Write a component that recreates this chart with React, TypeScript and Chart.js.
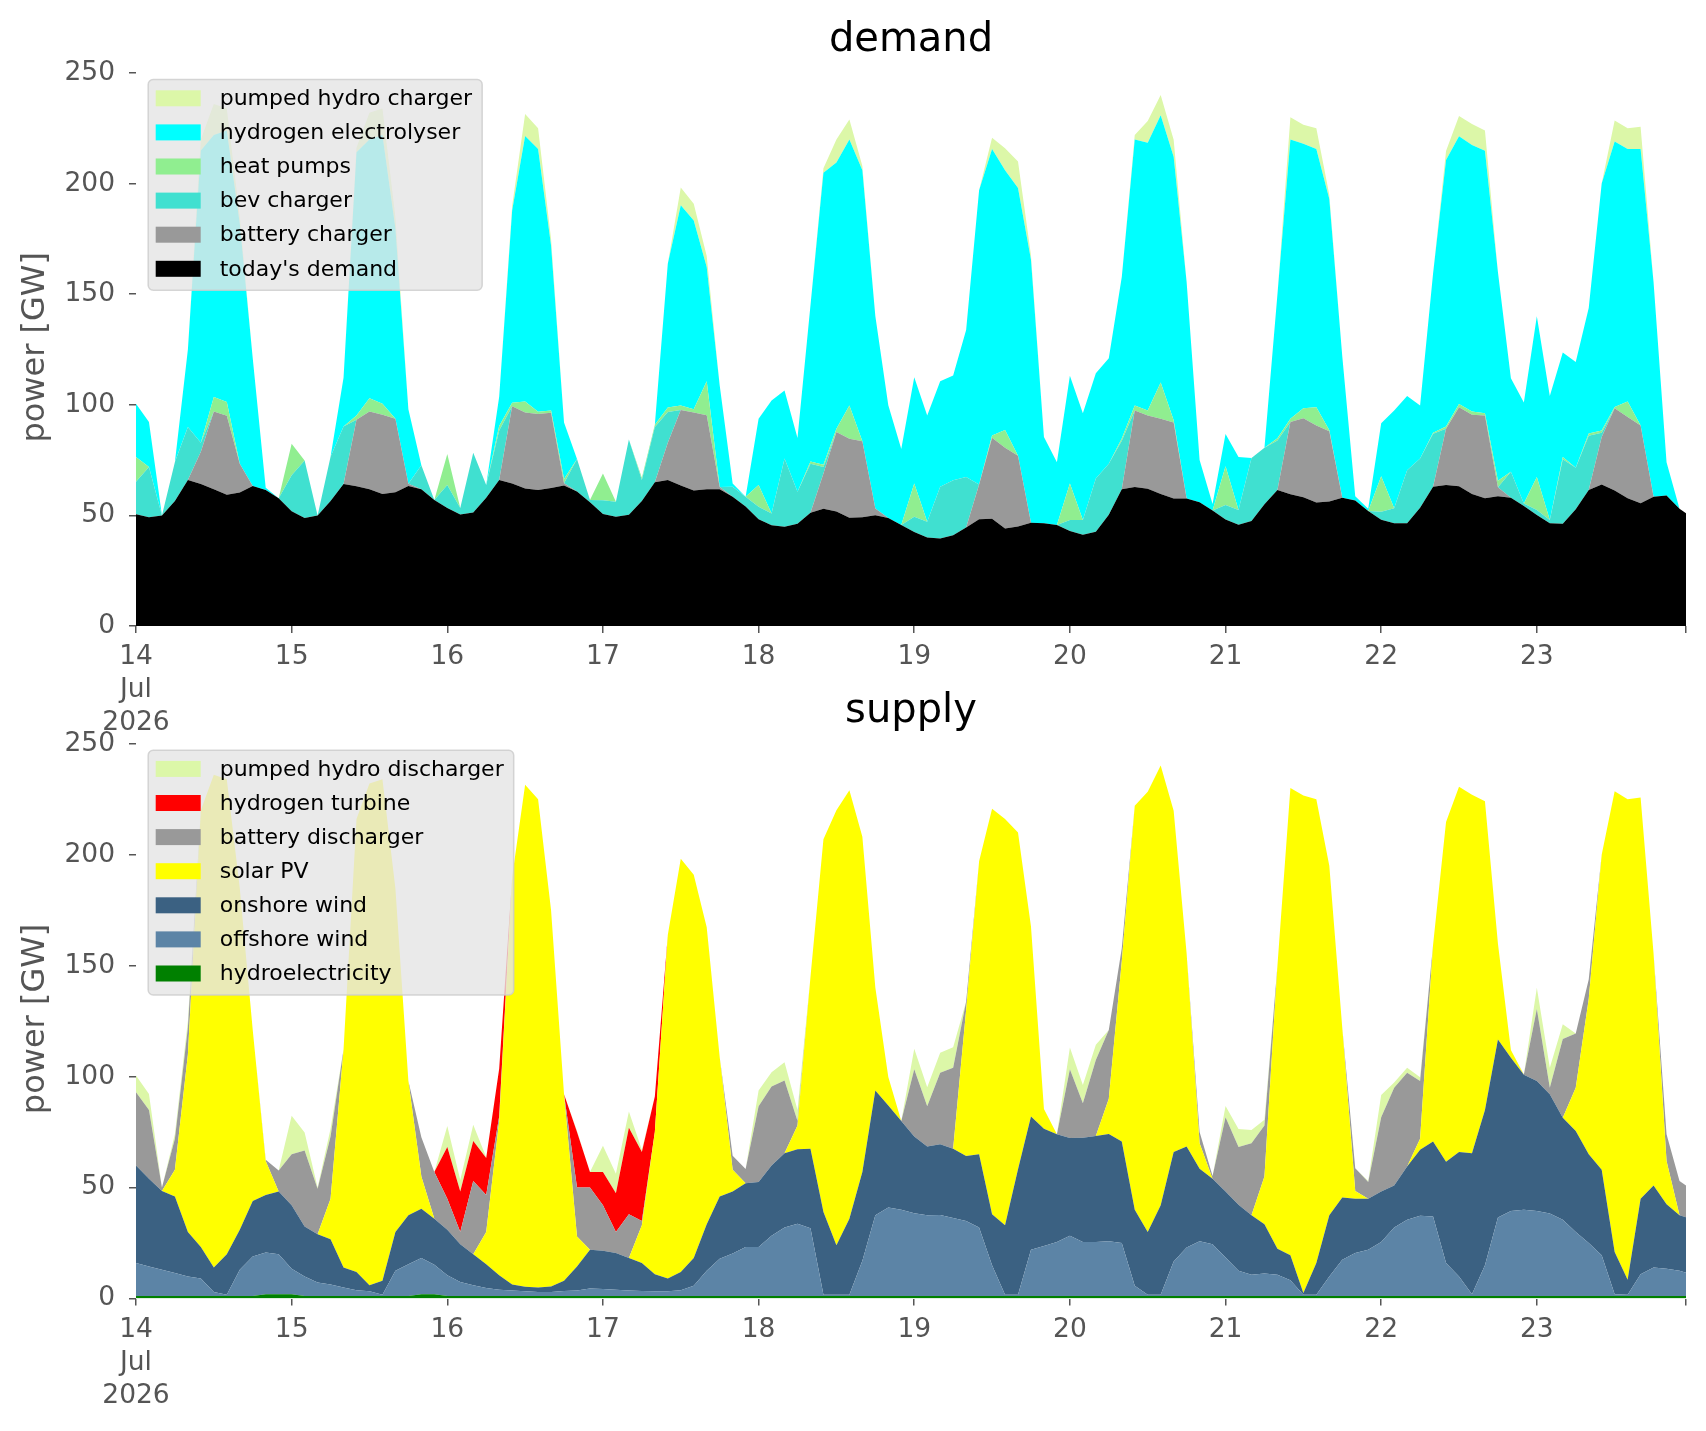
import React, { useEffect, useRef } from 'react';
import { Chart, registerables } from 'chart.js';

Chart.register(...registerables);

// ---------- axes / categories ----------
const HOURS = [0,2,4,6,8,10,12,14,16,18,20,22,24,26,28,30,32,34,36,38,40,42,44,46,48,50,52,54,56,58,60,62,64,66,68,70,72,74,76,78,80,82,84,86,88,90,92,94,96,98,100,102,104,106,108,110,112,114,116,118,120,122,124,126,128,130,132,134,136,138,140,142,144,146,148,150,152,154,156,158,160,162,164,166,168,170,172,174,176,178,180,182,184,186,188,190,192,194,196,198,200,202,204,206,208,210,212,214,216,218,220,222,224,226,228,230,232,234,236,238,239];
const X_TICKS = [0,24,48,72,96,120,144,168,192,216,239];
const DAY_LABELS = ['14','15','16','17','18','19','20','21','22','23'];
const FIRST_TICK_EXTRA = ['Jul','2026'];
const Y_TICKS = [0,50,100,150,200,250];

// ---------- demand (GW) ----------
const TODAYS_DEMAND = [
50.5,49.2,50,56.5,66,64.2,61.8,59.3,60.3,63.3,
61.5,57.7,51.9,48.8,50,56.5,64.2,63.2,61.8,59.7,
60.5,63.3,61.8,57,53.3,50.4,51.3,58,66,64.4,
62.2,61.5,62.4,63.5,60.8,56,50.6,49.4,50.3,56.5,
65,66,63.5,61.3,61.8,61.8,58.4,54,48.3,45.5,
44.9,46.2,51.2,53,51.8,48.9,49.2,50.1,48.8,45.7,
42.5,40,39.6,41,44.5,48.3,48.5,44.1,45,46.7,
46.4,45.7,43,41.3,42.6,50.3,61.8,62.8,62,59.7,
57.6,57.6,56,52.2,48.2,45.8,47.5,55,61.5,59.6,
58.2,55.8,56.3,58,56.7,52,48,46.4,46.5,53.5,
62.9,63.7,63.2,59.7,57.7,58.7,58,54.3,50.2,46.4,
46.2,52.8,61.5,64,61.3,57.8,55.5,58.4,59,53,
51];
const BATTERY_CHARGER = [
0,0,0,0,0,14.6,35.2,35.7,13,0,
0,0,0,0,0,0,0,30,35.2,35.8,
33.2,1,0,0,0,0,0,0,0,35,
34.3,34.4,34,1,0,0,0,0,0,0,
0,16.8,34.2,35.2,33.5,1,0,0,0,0,
0,0,0,15.9,35.9,35.8,34.3,3,0,0,
0,0,0,0,0,15.7,36.6,36.5,32,0,
0,0,0,0,0,0,0,34.6,33.2,34,
34.4,0,0,0,0,0,0,0,0,32.6,
35.7,34.9,31.7,0,0,0,0,0,0,0,
0,25.5,35.7,35.8,37.5,4,0,0,0,0,
0,0,0,21.4,37.2,36.7,35.2,0,0,0,
0];
const BEV_CHARGER = [
14.7,22.7,0,17.7,24,4,0,0,0,0,
0,0,16.3,26,0,20,26,0,0,0,
0,0,10.9,0,10.5,3,27,5.7,22.4,0,
0,0,0,0,14.7,1,6.3,6.8,34,9.5,
25,14,0,0,0,0,4.5,4.4,5.6,5.4,
30.8,14.5,22.2,3,0,0,0,0,0,0,
6.9,7.1,23.3,24.9,22.9,0,0,0,0,0,
0,0,4.9,6.6,24.1,23.1,22,0,0,0,
0,0,0,0,6.5,6.6,28.5,25.6,22.4,0,
0,0,0,0,0,0,3.7,6.8,23.9,22.2,
24,0,0,0,0,0,11.7,1.1,2.2,1.5,
29.2,18.7,24.5,2,0,0,0,0,0,0,
0];
const HEAT_PUMPS = [
11.2,0,0,0,0,0,6.5,6.3,0,0,
0,0,14.2,0,0,0,0,2,6,5,
0,0,0,0,14,0,0,0,2,1.5,
5,1,1,2,0,0,12,0,0,1,
1,2,2,1.5,15.4,0,0,0,9.8,0,
0,0,1,1,1.5,15,0,0,0,0,
15,0,0,0,0,0,1,8,0,0,
0,0,16.5,0,0,0,1,2.3,2.2,16.4,
1,0,0,0,17.5,0,0,0,1,1.5,
4.6,8.2,0.5,0,0,0,16,0,0,0,
0.5,1,1.5,1.5,1,3,0,0,15,0,
1,0,1,1,0.5,7,0,0,0,0,
0];
const HYDROGEN_ELECTROLYSER = [
24.1,20.3,0,0,35,132.2,118.5,122.7,108.7,57.7,
1,0,0,0,0,0,22,119,117,121.5,
86,33.7,0,0,0,0,0,0,13.3,87,
120,118.8,74.6,25.5,0,0,0,0,0,0,
0,65,90.5,85.3,51.6,46,1.5,0,30,51.1,
30.8,24.3,70.6,132,120.3,120.3,122.5,87,51,34.3,
48.1,48.1,47.8,47.3,66.4,133,129.6,117.4,121,118.9,
39,28.3,48.7,48.3,47.6,47.6,73,120.3,121.1,120.8,
119.2,97.9,19,3,14.6,24,0,0,65,126.3,
119.5,116.8,104.5,64,2,1,24,44.2,33.6,24,
72,120.5,121,120.5,118.7,94.3,42.3,45.6,72.6,56.1,
47.2,47.9,56.8,111.6,120,114.2,125,97,15,0,
0];
const PUMPED_HYDRO_CHARGER = [
0,0,0,0,0,5,14,10,3,0,
0,0,0,0,0,0,0,2,12,12,
5,0,0,0,0,0,0,0,0,2,
10,9.3,3,0,0,0,0,0,0,0,
0,0,8,7.6,5,0,0,0,0,0,
0,0,0,2,10.5,9,2,0,0,0,
0,0,0,0,0,0,5,10,12,2,
0,0,0,0,0,0,0,2,9.8,9.2,
7.6,0,0,0,0,0,0,0,0,10,
8.6,9.3,2,0,0,0,0,0,0,0,
0,4,9.2,9.5,9.1,0,0,0,0,0,
0,0,0,0,9.5,9.3,10,0,0,0,
0];

// ---------- supply (GW) ----------
const HYDROELECTRICITY = [
1.2,1.2,1.2,1.2,1.2,1.2,1.2,1.2,1.2,1.2,
2,2,2,1.2,1.2,1.2,1.2,1.2,1.2,1.2,
1.2,1.2,2,2,1.2,1.2,1.2,1.2,1.2,1.2,
1.2,1.2,1.2,1.2,1.2,1.2,1.2,1.2,1.2,1.2,
1.2,1.2,1.2,1.2,1.2,1.2,1.2,1.2,1.2,1.2,
1.2,1.2,1.2,1.2,1.2,1.2,1.2,1.2,1.2,1.2,
1.2,1.2,1.2,1.2,1.2,1.2,1.2,1.2,1.2,1.2,
1.2,1.2,1.2,1.2,1.2,1.2,1.2,1.2,1.2,1.2,
1.2,1.2,1.2,1.2,1.2,1.2,1.2,1.2,1.2,1.2,
1.2,1.2,1.2,1.2,1.2,1.2,1.2,1.2,1.2,1.2,
1.2,1.2,1.2,1.2,1.2,1.2,1.2,1.2,1.2,1.2,
1.2,1.2,1.2,1.2,1.2,1.2,1.2,1.2,1.2,1.2,
1.2];
const OFFSHORE_WIND = [
14.8,13.3,11.8,10.3,8.8,7.8,1.8,0.5,11.8,17.8,
18.8,18,11.5,8.8,6.1,5.1,3.8,2.6,2.1,0.5,
11.3,14.3,16.3,13.3,9.3,6.3,4.8,3.6,2.8,2.5,
2.1,1.8,1.8,2.2,2.5,3.3,3.1,2.8,2.5,2.2,
2.1,2.1,2.6,4.6,11.3,16.8,19.1,22.1,22.1,27.1,
30.8,32.5,30.5,0.5,0.5,0.5,15.8,36.3,39.8,38.8,
37.3,36.3,36.5,35.1,33.8,30.8,13.8,0.5,0.5,20.8,
22.5,24.3,27.1,24.3,24.3,24.6,23.8,4.6,0.5,0.5,
15.5,21.8,24.6,23.3,17.3,11.3,9.6,10.1,9.6,7.1,
0.5,0.5,8.8,16.3,19.3,20.8,24.3,30.8,34.3,36.1,
35.8,14.8,8.8,0.8,13.8,35.3,38.3,38.8,38.3,37.1,
34.3,28.8,23.8,18.3,0.8,0.5,9.8,12.8,12.3,11.3,
10.5];
const ONSHORE_WIND = [
44,39.5,35.5,34.5,20,14.3,11,18.3,18,25,
25.9,28.3,28.5,22.5,21.7,20.4,9,8.2,2.7,6.3,
17.5,22,22.2,20.7,20.5,17,14,10.7,6.5,2.6,
2,2,2.5,4.6,10.8,17.5,17.2,16.5,14.6,12.6,
7.7,5.7,8.2,12.5,21,28,28,28.7,29.2,31.7,
33.5,33.6,35.8,37.3,22.3,34.3,40,56.2,46,40,
34.5,31,31.8,31.2,29.2,33,23,31.3,56.6,60,
52.8,48.5,44,47,47.8,48.4,45.8,34.2,28.3,40.3,
49.3,45.5,32.7,29.5,29.8,29.8,26.7,22.2,11.7,11.2,
0.8,14.3,27.5,28,24.5,23,22.8,19,24,29.7,
33.8,45.7,56,63.5,70,80.2,69,60.8,58.5,53.7,
46,45.5,40,38.5,19,6.8,34,37,29,25,
25];
const SOLAR_PV = [
0,0,0,12,80,196.7,222,214,154,77,
15.3,0,0,0,0,18.3,98.2,204,226,226,
154.7,60.5,14.5,0,0,0,0,14.5,69.5,183.6,
226.2,220,169.5,84,13.5,0,0,0,0,17,
64,154.8,186.2,172.6,133.8,62.8,9.7,0,0,0,
0,10.7,77.5,167.9,196,193,151,46.4,12.8,0,
0,0,0,0,65.8,132,182.7,183,151.7,85.6,
8.9,0,0,0,0,15.8,81.2,182,198.3,198.1,
153.8,87,11.5,0,0,0,0,21.5,127.4,210.5,
224.1,209,157.5,76.5,3.5,0,0,0,0,5,
88.6,153,164.6,161.5,139,43.3,3.5,0,0,0,
0,19.5,70,142,207.5,216.5,180.7,104.4,19.5,0,
0];
const BATTERY_DISCHARGER = [
33,31,1.5,14,12,0,0,0,0,0,
0.5,9.4,23,34.2,20.5,28,0,0,0,0,
0,0,17.7,21,14,5.5,33,16.7,2,0,
0,0,0,0,22,28,20.5,9.5,19.7,2,
0,0,0,0,0,0,6.4,6.4,34.2,35.5,
32.8,2,0,0,0,0,0,0,0,0,
30.3,18.2,32.2,36.5,3.8,0,0,0,0,0,
0,0,31,15.5,34.2,31,5.8,0,0,0,
0,0,5,1.2,33.4,26,32.5,23,0,0,
0,0,0,0,10.2,7.5,33.4,44,42.2,26,
0,0,0,0,0,0,0,0.2,32.5,3,
35.5,24.4,8.8,0,0,0,0,0,12,15.5,
14.3];
const HYDROGEN_TURBINE = [
0,0,0,0,0,0,0,0,0,0,
0,0,0,0,0,0,0,0,0,0,
0,0,0,0,23.3,18.3,18,16.6,21.5,0,
0,0,0,0,25,7,15,17.5,39,31,
16,0,0,0,0,0,0,0,0,0,
0,0,0,0,0,0,0,0,0,0,
0,0,0,0,0,0,0,0,0,0,
0,0,0,0,0,0,0,0,0,0,
0,0,0,0,0,0,0,0,0,0,
0,0,0,0,0,0,0,0,0,0,
0,0,0,0,0,0,0,0,0,0,
0,0,0,0,0,0,0,0,0,0,
0];
const PUMPED_HYDRO_DISCHARGER = [
7.5,7.2,0,2.2,3,0,0,0,0,0,
0,0,17.4,8.1,0.5,3.5,0,0,0,0,
0,0,0,0,9.5,5.1,7.3,0.4,0.2,0,
0,0,0,0,0.5,0,11.9,8.7,7.3,1,
0,0,0,0,0,0,0,0,7,6.5,
8.2,5,0,0,0,0,0,0,0,0,
9.2,8.5,9,9.2,0,0,0,0,0,0,
0,0,9.8,8.2,6.8,0,0,0,0,0,
0,0,0,0,5.1,8.1,6,2.6,0,0,
0,0,0,0,0,0.5,10,2.4,2.3,1.7,
0,0,0,0,0,0,0,0,9.5,9,
6.6,0,0,0,0,0,0,0,0,0,
0];

// ---------- styling ----------
const FONT = "'DejaVu Sans', 'Liberation Sans', sans-serif";
const C = {
  black: '#000000',
  battery: '#999999',
  bev: '#40e0d0',
  heat: '#90ee90',
  electrolyser: '#00ffff',
  pumped: '#dcf7a8',
  hydro: '#008000',
  offshore: '#5c84a6',
  onshore: '#3b6182',
  solar: '#ffff00',
  turbine: '#ff0000',
};

type Series = { label: string; color: string; values: number[] };

const DEMAND_SERIES: Series[] = [
  { label: "today's demand", color: C.black, values: TODAYS_DEMAND },
  { label: 'battery charger', color: C.battery, values: BATTERY_CHARGER },
  { label: 'bev charger', color: C.bev, values: BEV_CHARGER },
  { label: 'heat pumps', color: C.heat, values: HEAT_PUMPS },
  { label: 'hydrogen electrolyser', color: C.electrolyser, values: HYDROGEN_ELECTROLYSER },
  { label: 'pumped hydro charger', color: C.pumped, values: PUMPED_HYDRO_CHARGER },
];

const SUPPLY_SERIES: Series[] = [
  { label: 'hydroelectricity', color: C.hydro, values: HYDROELECTRICITY },
  { label: 'offshore wind', color: C.offshore, values: OFFSHORE_WIND },
  { label: 'onshore wind', color: C.onshore, values: ONSHORE_WIND },
  { label: 'solar PV', color: C.solar, values: SOLAR_PV },
  { label: 'battery discharger', color: C.battery, values: BATTERY_DISCHARGER },
  { label: 'hydrogen turbine', color: C.turbine, values: HYDROGEN_TURBINE },
  { label: 'pumped hydro discharger', color: C.pumped, values: PUMPED_HYDRO_DISCHARGER },
];

function xLabel(v: number): string | string[] {
  if (v === 0) return [DAY_LABELS[0], ...FIRST_TICK_EXTRA];
  const idx = v / 24;
  if (Number.isInteger(idx) && idx < DAY_LABELS.length) return DAY_LABELS[idx];
  return '';
}

function overlayPlugin(title: string, series: Series[]) {
  return {
    id: 'overlay',
    afterDraw(chart: any) {
      const ctx: CanvasRenderingContext2D = chart.ctx;
      const ca = chart.chartArea;
      ctx.save();
      // title
      ctx.font = `40px ${FONT}`;
      ctx.fillStyle = '#000';
      ctx.textAlign = 'center';
      ctx.textBaseline = 'alphabetic';
      ctx.fillText(title, (ca.left + ca.right) / 2, ca.top - 17.5);
      // legend (reverse order, semi transparent frame)
      const items = [...series].reverse();
      ctx.font = `22px ${FONT}`;
      let maxW = 0;
      items.forEach((it) => { maxW = Math.max(maxW, ctx.measureText(it.label).width); });
      const x0 = ca.left + 12.2;
      const y0 = ca.top + 11;
      const w = 71.5 + maxW + 10;
      const h = 18.7 + (items.length - 1) * 34.1 + 21.4;
      const r = 5;
      ctx.beginPath();
      ctx.moveTo(x0 + r, y0);
      ctx.lineTo(x0 + w - r, y0);
      ctx.arcTo(x0 + w, y0, x0 + w, y0 + r, r);
      ctx.lineTo(x0 + w, y0 + h - r);
      ctx.arcTo(x0 + w, y0 + h, x0 + w - r, y0 + h, r);
      ctx.lineTo(x0 + r, y0 + h);
      ctx.arcTo(x0, y0 + h, x0, y0 + h - r, r);
      ctx.lineTo(x0, y0 + r);
      ctx.arcTo(x0, y0, x0 + r, y0, r);
      ctx.closePath();
      ctx.fillStyle = 'rgba(229,229,229,0.8)';
      ctx.fill();
      ctx.lineWidth = 1.5;
      ctx.strokeStyle = 'rgba(204,204,204,0.8)';
      ctx.stroke();
      items.forEach((it, k) => {
        const cy = y0 + 18.7 + k * 34.1;
        ctx.fillStyle = it.color;
        ctx.fillRect(x0 + 7.5, cy - 8, 45, 16);
        ctx.fillStyle = '#000';
        ctx.textAlign = 'left';
        ctx.textBaseline = 'middle';
        ctx.fillText(it.label, x0 + 71.5, cy + 1);
      });
      ctx.restore();
    },
  };
}

function makeConfig(series: Series[], title: string, padTop: number, padBottom: number): any {
  const datasets = series.map((s, i) => ({
    label: s.label,
    data: s.values.map((v, j) => ({ x: HOURS[j], y: v })),
    backgroundColor: s.color,
    borderColor: s.color,
    borderWidth: 0,
    pointRadius: 0,
    pointHoverRadius: 0,
    tension: 0,
    fill: i === 0 ? 'origin' : '-1',
  }));
  const tickFont = { family: FONT, size: 26.5, lineHeight: 1.24 };
  const grid = { display: true, drawOnChartArea: false, drawTicks: true, tickLength: 7, color: '#555555', lineWidth: 1.5 };
  return {
    type: 'line',
    data: { datasets },
    options: {
      animation: false,
      responsive: false,
      maintainAspectRatio: false,
      events: [],
      layout: { padding: { left: 12, right: 20, top: padTop, bottom: padBottom } },
      plugins: { legend: { display: false }, tooltip: { enabled: false }, title: { display: false } },
      scales: {
        x: {
          type: 'linear',
          min: 0,
          max: 239,
          afterFit: (s: any) => { s.height = 112; },
          afterBuildTicks: (s: any) => { s.ticks = X_TICKS.map((v) => ({ value: v })); },
          ticks: {
            autoSkip: false,
            maxRotation: 0,
            minRotation: 0,
            padding: 8,
            color: '#555555',
            font: tickFont,
            callback: (v: any) => xLabel(Number(v)),
          },
          grid,
          border: { display: false },
        },
        y: {
          stacked: true,
          min: 0,
          max: 252,
          afterFit: (s: any) => { s.width = 124; },
          afterBuildTicks: (s: any) => { s.ticks = Y_TICKS.map((v) => ({ value: v })); },
          ticks: { padding: 14, color: '#555555', font: { family: FONT, size: 26.5 } },
          title: { display: true, text: 'power [GW]', color: '#555555', font: { family: FONT, size: 32 }, padding: { top: 4, bottom: 4 } },
          grid,
          border: { display: false },
        },
      },
    },
    plugins: [overlayPlugin(title, series)],
  };
}

function StackChart(props: { top: number; height: number; padTop: number; padBottom: number; series: Series[]; title: string }) {
  const ref = useRef<HTMLCanvasElement | null>(null);
  useEffect(() => {
    if (!ref.current) return;
    const chart = new Chart(ref.current, makeConfig(props.series, props.title, props.padTop, props.padBottom));
    return () => chart.destroy();
  }, []);
  return (
    <canvas
      ref={ref}
      width={1706}
      height={props.height}
      style={{ position: 'absolute', left: 0, top: props.top, width: 1706, height: props.height }}
    />
  );
}

export default function App() {
  return (
    <div style={{ position: 'absolute', left: 0, top: 0, width: 1706, height: 1431, background: '#ffffff', overflow: 'hidden' }}>
      {/* demand: chart area 68.6 .. 626 */}
      <StackChart top={0} height={780} padTop={68.6} padBottom={780 - 626 - 112} series={DEMAND_SERIES} title="demand" />
      {/* supply: chart area 739.2 .. 1298.6 */}
      <StackChart top={660} height={771} padTop={79.2} padBottom={771 - 638.6 - 112} series={SUPPLY_SERIES} title="supply" />
    </div>
  );
}
